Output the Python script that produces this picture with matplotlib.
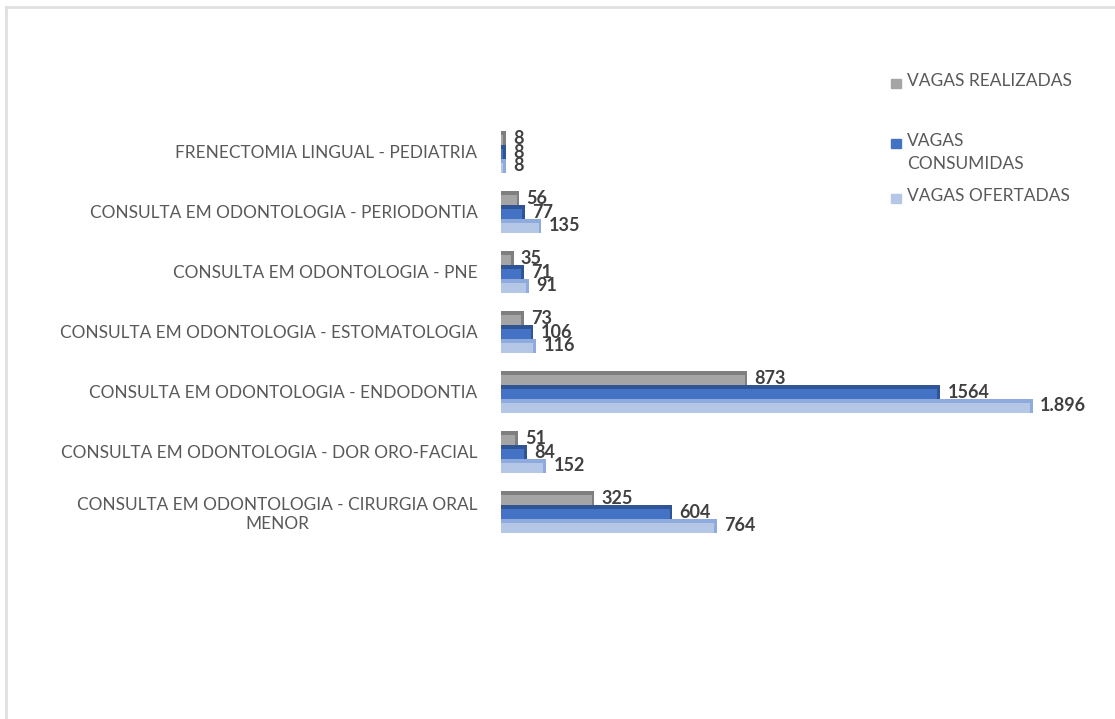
import matplotlib.pyplot as plt
from matplotlib.patches import Rectangle
from matplotlib.lines import Line2D

categorias = [
    "CONSULTA EM ODONTOLOGIA - CIRURGIA ORAL\nMENOR",
    "CONSULTA EM ODONTOLOGIA - DOR ORO-FACIAL",
    "CONSULTA EM ODONTOLOGIA - ENDODONTIA",
    "CONSULTA EM ODONTOLOGIA - ESTOMATOLOGIA",
    "CONSULTA EM ODONTOLOGIA - PNE",
    "CONSULTA EM ODONTOLOGIA - PERIODONTIA",
    "FRENECTOMIA LINGUAL - PEDIATRIA",
]
realizadas = [325, 51, 873, 73, 35, 56, 8]
consumidas = [604, 84, 1564, 106, 71, 77, 8]
ofertadas = [764, 152, 1896, 116, 91, 135, 8]
rot_realizadas = ["325", "51", "873", "73", "35", "56", "8"]
rot_consumidas = ["604", "84", "1564", "106", "71", "77", "8"]
rot_ofertadas = ["764", "152", "1.896", "116", "91", "135", "8"]

series = [
    ("VAGAS REALIZADAS", realizadas, rot_realizadas, "#A5A5A5", "#7F7F7F"),
    ("VAGAS\nCONSUMIDAS", consumidas, rot_consumidas, "#4472C4", "#2F5597"),
    ("VAGAS OFERTADAS", ofertadas, rot_ofertadas, "#B4C7E7", "#8FAADC"),
]

fig = plt.figure(figsize=(11.15, 7.19), dpi=100)
ax = fig.add_axes([501 / 1115, (719 - 572) / 719, 558 / 1115, 480 / 719])

h = 0.233
offsets = [h, 0, -h]
dx = 10  # profundidade 3D em unidades de dados
for (nome, vals, rots, cor, cor_esc), off in zip(series, offsets):
    y = [i + off for i in range(len(categorias))]
    ax.barh(y, vals, height=h, color=cor, edgecolor="none", zorder=3)
    # face superior/lateral para o efeito 3D
    ax.barh([v + h / 2 - 0.03 for v in y], vals, height=0.06, color=cor_esc,
            edgecolor="none", zorder=3)
    ax.barh(y, [dx] * len(vals), left=vals, height=h, color=cor_esc,
            edgecolor="none", zorder=3)
    for yy, v, r in zip(y, vals, rots):
        ax.text(v + 36, yy, r, va="center", ha="left", fontsize=13,
                fontweight="bold", color="#404040", family="Lato", zorder=5)

ax.set_xlim(0, 2000)
ax.set_ylim(-1, 7)
ax.set_yticks(range(len(categorias)))
ax.set_yticklabels(categorias, fontsize=12.4, color="#595959", family="Lato",
                   multialignment="center")
ax.tick_params(axis="y", length=0, pad=17)
ax.set_xticks([])
for s in ax.spines.values():
    s.set_visible(False)

# legenda
leg_y = [83, 143, 198]
for (nome, vals, rots, cor, cor_esc), yp in zip(series, leg_y):
    fig.patches.append(Rectangle((891 / 1115, 1 - (yp + 5) / 719), 10 / 1115, 9 / 719,
                                 transform=fig.transFigure, color=cor))
    fig.text(907 / 1115, 1 - (yp - 10) / 719, nome, ha="left", va="top",
             fontsize=12.5, color="#595959", family="Lato", linespacing=1.55)

# moldura
fig.add_artist(Line2D([6 / 1115, 1], [1 - 7 / 719] * 2, color="#E0E0E0", lw=2,
                      transform=fig.transFigure))
fig.add_artist(Line2D([6 / 1115] * 2, [0, 1 - 7 / 719], color="#E0E0E0", lw=2,
                      transform=fig.transFigure))

fig.savefig("out.png", dpi=100)
